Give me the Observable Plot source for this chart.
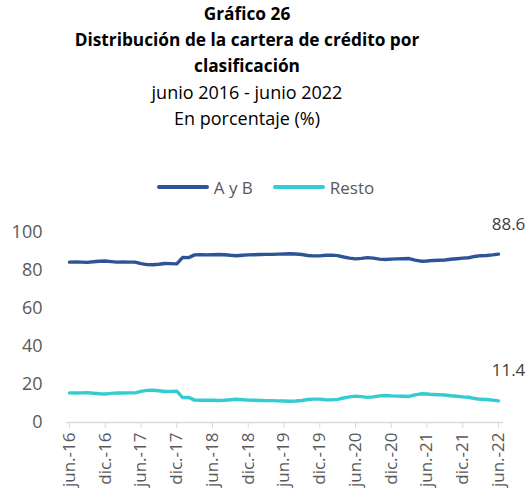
<!DOCTYPE html>
<html><head><meta charset="utf-8">
<script src="https://cdn.jsdelivr.net/npm/d3@7"></script>
<script src="https://cdn.jsdelivr.net/npm/@observablehq/plot@0.6"></script>
<style>
body{margin:0;background:#fff;}
#wrap{position:relative;width:531px;height:501px;overflow:hidden;font-family:"Open Sans",sans-serif;}
#title{position:absolute;top:1px;left:0;width:494px;text-align:center;font-family:"Open Sans",sans-serif;color:#000;font-size:17.3px;line-height:26px;}
#title b{font-weight:700;}
#title .sub{font-size:18px;}
#legend{position:absolute;top:175px;left:0;width:531px;height:24px;display:flex;justify-content:center;align-items:center;font-size:17px;color:#595959;}
#legend .item{display:flex;align-items:center;margin:0 10px;}
#legend .sw{display:inline-block;width:52px;height:4px;border-radius:2px;margin-right:5px;}
#chart{position:absolute;top:200px;left:0;}
</style>
</head><body>
<div id="wrap">
  <div id="title"></div>
  <div id="legend"></div>
  <div id="chart"></div>
</div>
<script>
const titleLines = ["Gráfico 26", "Distribución de la cartera de crédito por", "clasificación"];
const subtitleLines = ["junio 2016 - junio 2022", "En porcentaje (%)"];
const seriesNames = ["A y B", "Resto"];
const seriesColors = ["#2F5496", "#33CCD3"];
const monthNames = ["jun.", "jul.", "ago.", "sep.", "oct.", "nov.", "dic.", "ene.", "feb.", "mar.", "abr.", "may."];
const tickLabels = ["jun.-16","dic.-16","jun.-17","dic.-17","jun.-18","dic.-18","jun.-19","dic.-19","jun.-20","dic.-20","jun.-21","dic.-21","jun.-22"];
const yTicks = [0, 20, 40, 60, 80, 100];

const ayb = [84.4,84.5,84.4,84.3,84.6,84.9,85.0,84.7,84.4,84.5,84.4,84.4,
  83.6,83.1,83.0,83.3,83.7,83.6,83.5,86.9,86.8,88.2,88.3,88.2,
  88.3,88.4,88.3,88.0,87.8,88.0,88.2,88.3,88.4,88.5,88.5,88.6,
  88.7,88.8,88.7,88.4,87.9,87.7,87.7,88.0,88.1,87.8,87.1,86.5,
  86.1,86.4,86.8,86.5,86.0,85.8,86.0,86.1,86.2,86.3,85.5,84.9,
  85.0,85.3,85.4,85.5,85.9,86.2,86.5,86.7,87.4,87.8,87.9,88.2,
  88.6];
const resto = [15.6,15.5,15.6,15.7,15.4,15.1,15.0,15.3,15.6,15.5,15.6,15.6,
  16.4,16.9,17.0,16.7,16.3,16.4,16.5,13.1,13.2,11.8,11.7,11.8,
  11.7,11.6,11.7,12.0,12.2,12.0,11.8,11.7,11.6,11.5,11.5,11.4,
  11.3,11.2,11.3,11.6,12.1,12.3,12.3,12.0,11.9,12.2,12.9,13.5,
  13.9,13.6,13.2,13.5,14.0,14.2,14.0,13.9,13.8,13.7,14.5,15.1,
  15.0,14.7,14.6,14.5,14.1,13.8,13.5,13.3,12.6,12.2,12.1,11.8,
  11.4];

// categories: monthly periods jun.-16 .. jun.-22
const periods = [];
for (let i = 0; i < ayb.length; i++) {
  const m = i % 12;
  const yr = 16 + Math.floor((i + 5) / 12);
  periods.push(monthNames[m] + "-" + yr);
}

const data = [];
[ayb, resto].forEach((arr, s) => arr.forEach((v, i) => data.push({period: periods[i], value: v, series: seriesNames[s]})));
const lastPoints = [ayb, resto].map((arr, s) => ({period: periods[arr.length - 1], value: arr[arr.length - 1], series: seriesNames[s]}));

document.getElementById("title").innerHTML =
  titleLines.map(t => `<div><b>${t}</b></div>`).join("") +
  subtitleLines.map(t => `<div class="sub">${t}</div>`).join("");

document.getElementById("legend").innerHTML = seriesNames.map((n, i) =>
  `<span class="item"><span class="sw" style="background:${seriesColors[i]}"></span>${n}</span>`).join("");

const chart = Plot.plot({
  width: 531,
  height: 301,
  marginTop: 32,
  marginBottom: 79,
  marginLeft: 69,
  marginRight: 33,
  style: {fontFamily: "'Open Sans', sans-serif", fontSize: "17px", background: "#fff", overflow: "visible"},
  x: {type: "point", domain: periods, padding: 0},
  y: {domain: [0, 100]},
  color: {domain: seriesNames, range: seriesColors},
  marks: [
    Plot.axisY({ticks: yTicks, tickSize: 0, tickPadding: 27, fontSize: 18, fill: "#595959", label: null}),
    Plot.axisX({ticks: tickLabels, tickRotate: -90, tickSize: 6, tickPadding: 4, stroke: "#d9d9d9", fill: "#595959", fontSize: 17, label: null}),
    Plot.ruleY([0], {stroke: "#d9d9d9", strokeWidth: 1.5, insetLeft: -3, insetRight: -5}),
    Plot.line(data, {x: "period", y: "value", z: "series", stroke: "series", strokeWidth: 3.4, strokeLinejoin: "round", strokeLinecap: "round"}),
    Plot.text(lastPoints, {x: "period", y: "value", text: d => d.value.toFixed(1), dy: -30, dx: 10, fill: "#404040", fontSize: 17})
  ]
});
document.getElementById("chart").appendChild(chart);
</script>
</body></html>
